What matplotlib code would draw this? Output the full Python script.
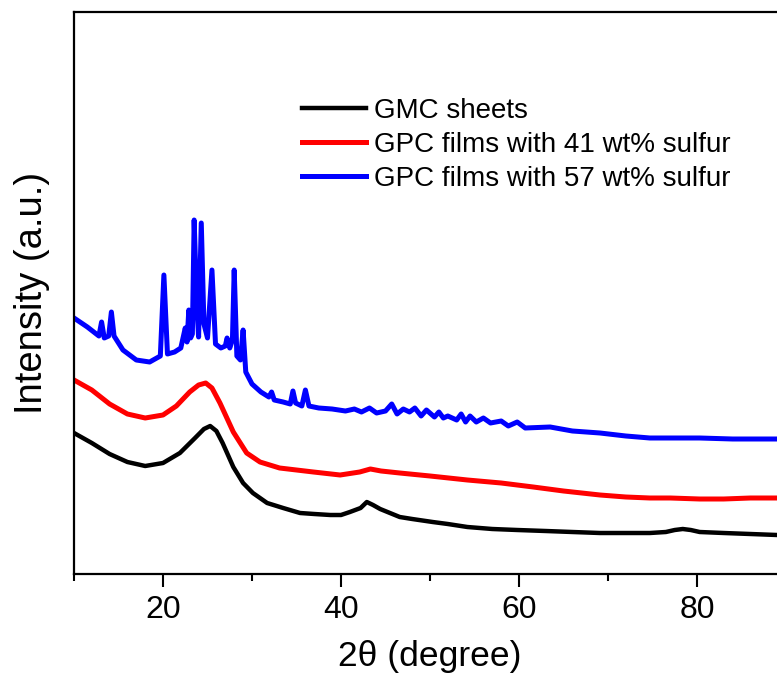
"""XRD patterns of GMC sheets and GPC films."""
import matplotlib

matplotlib.use("Agg")
import matplotlib.pyplot as plt

plt.rcParams["font.family"] = ["Liberation Sans", "DejaVu Sans"]

# 2theta (degree) and intensity (a.u.)
gmc_x = [10, 12, 14, 16, 18, 20, 21.9, 23.6, 24.6, 25.3, 26.0, 26.7, 27.9, 29.0, 30.1,
         31.7, 33.5, 35.4, 37, 38.8, 40, 41.0, 42.2, 42.9, 43.6, 44.4, 45.5, 46.6, 48,
         50.3, 52, 54.2, 57, 59.8, 63, 66, 69.1, 72, 74.7, 76.5, 77.5, 78.4, 79.3,
         80.3, 83, 86, 89]
gmc_y = [141, 131, 120, 112, 108, 111, 121, 136, 145, 148, 143, 131, 107, 91, 81,
         71, 66, 61, 60, 59, 59, 62, 66, 72, 69, 65, 61, 57, 55,
         52, 50, 47, 45, 44, 43, 42, 41, 41, 41, 42, 44, 45, 44,
         42, 41, 40, 39]

gpc41_x = [10, 12, 14, 16, 18, 20, 21.5, 23, 24, 24.8, 25.5, 26.4, 27.9, 29.4, 30.9,
           33.1, 36.9, 39.9, 42.1, 43.3, 44.5, 46.6, 50, 54.2, 58, 61.6, 65,
           69.1, 72, 74.7, 77, 80.3, 83, 86, 89]
gpc41_y = [194, 184, 170, 160, 156, 159, 168, 182, 189, 191, 186, 171, 142, 121, 112,
           106, 102, 99, 102, 105, 103, 101, 98, 94, 91, 87, 83,
           79, 77, 76, 76, 75, 75, 76, 76]

gpc57_x = [10, 11.5, 12.8, 13.1, 13.4, 13.9, 14.2, 14.5, 15.5, 17, 18.5, 19.7, 20.1,
           20.5, 21.3, 22.0, 22.5, 22.7, 22.9, 23.1, 23.3, 23.5, 23.8, 24.0, 24.3,
           24.6, 25.0, 25.5, 25.9, 26.5, 27.0, 27.2, 27.5, 27.8, 28.0, 28.3, 28.7,
           29.0, 29.3, 30, 31, 31.9, 32.2, 32.5, 33.5, 34.3, 34.6, 34.9, 35.6, 36.0,
           36.4, 37.5, 39, 40.5, 41.5, 42.3, 43.2, 44.0, 45.0, 45.7, 46.3, 47.0, 47.7,
           48.3, 49.0, 49.6, 50.5, 51.0, 51.5, 52.0, 53.0, 53.5, 54.0, 54.5, 55.2,
           56.0, 56.8, 58.0, 58.8, 59.8, 60.7, 63.5, 66, 69.1, 72, 74.7, 77, 80.3,
           84, 89]
gpc57_y = [256, 247, 238, 252, 236, 238, 262, 238, 224, 214, 212, 218, 299,
           220, 222, 226, 246, 232, 264, 236, 240, 354, 268, 237, 351,
           250, 236, 304, 230, 226, 228, 236, 226, 234, 304, 218, 214,
           244, 202, 190, 182, 177, 182, 174, 172, 170, 183, 171, 168, 184,
           168, 166, 165, 163, 165, 162, 166, 161, 163, 170, 160, 165, 162,
           166, 158, 164, 157, 162, 156, 158, 154, 160, 152, 158, 152,
           156, 151, 153, 148, 152, 146, 147, 143, 141, 138, 136, 136, 136,
           135, 135]

fig = plt.figure(figsize=(7.77, 6.75), dpi=100)
ax = fig.add_axes([74 / 777, 101 / 675, 712 / 777, 562 / 675])

ax.plot(gmc_x, gmc_y, color="black", lw=3.2, label="GMC sheets")
ax.plot(gpc41_x, gpc41_y, color="#ff0000", lw=3.6, label="GPC films with 41 wt% sulfur")
ax.plot(gpc57_x, gpc57_y, color="#0000ff", lw=3.6, label="GPC films with 57 wt% sulfur")

ax.set_xlim(10, 90)
ax.set_ylim(0, 562)
ax.set_xticks([20, 40, 60, 80])
ax.set_xticks([10, 30, 50, 70, 90], minor=True)
ax.set_yticks([])
ax.tick_params(axis="x", which="major", direction="out", length=9, width=1.5,
               labelsize=23, pad=6)
ax.tick_params(axis="x", which="minor", direction="out", length=5, width=1.5)
for sp in ax.spines.values():
    sp.set_linewidth(1.6)

ax.set_xlabel("2θ (degree)", fontsize=25.5, labelpad=11)
ax.set_ylabel("Intensity (a.u.)", fontsize=27.5, labelpad=17)

ax.legend(loc="upper left", bbox_to_anchor=((302 - 74) / 712, (574 - 98) / 562),
          frameon=False, fontsize=20, borderpad=0, borderaxespad=0,
          handlelength=2.3, handletextpad=0.3, labelspacing=0.28)

fig.savefig("out.png", dpi=100)
